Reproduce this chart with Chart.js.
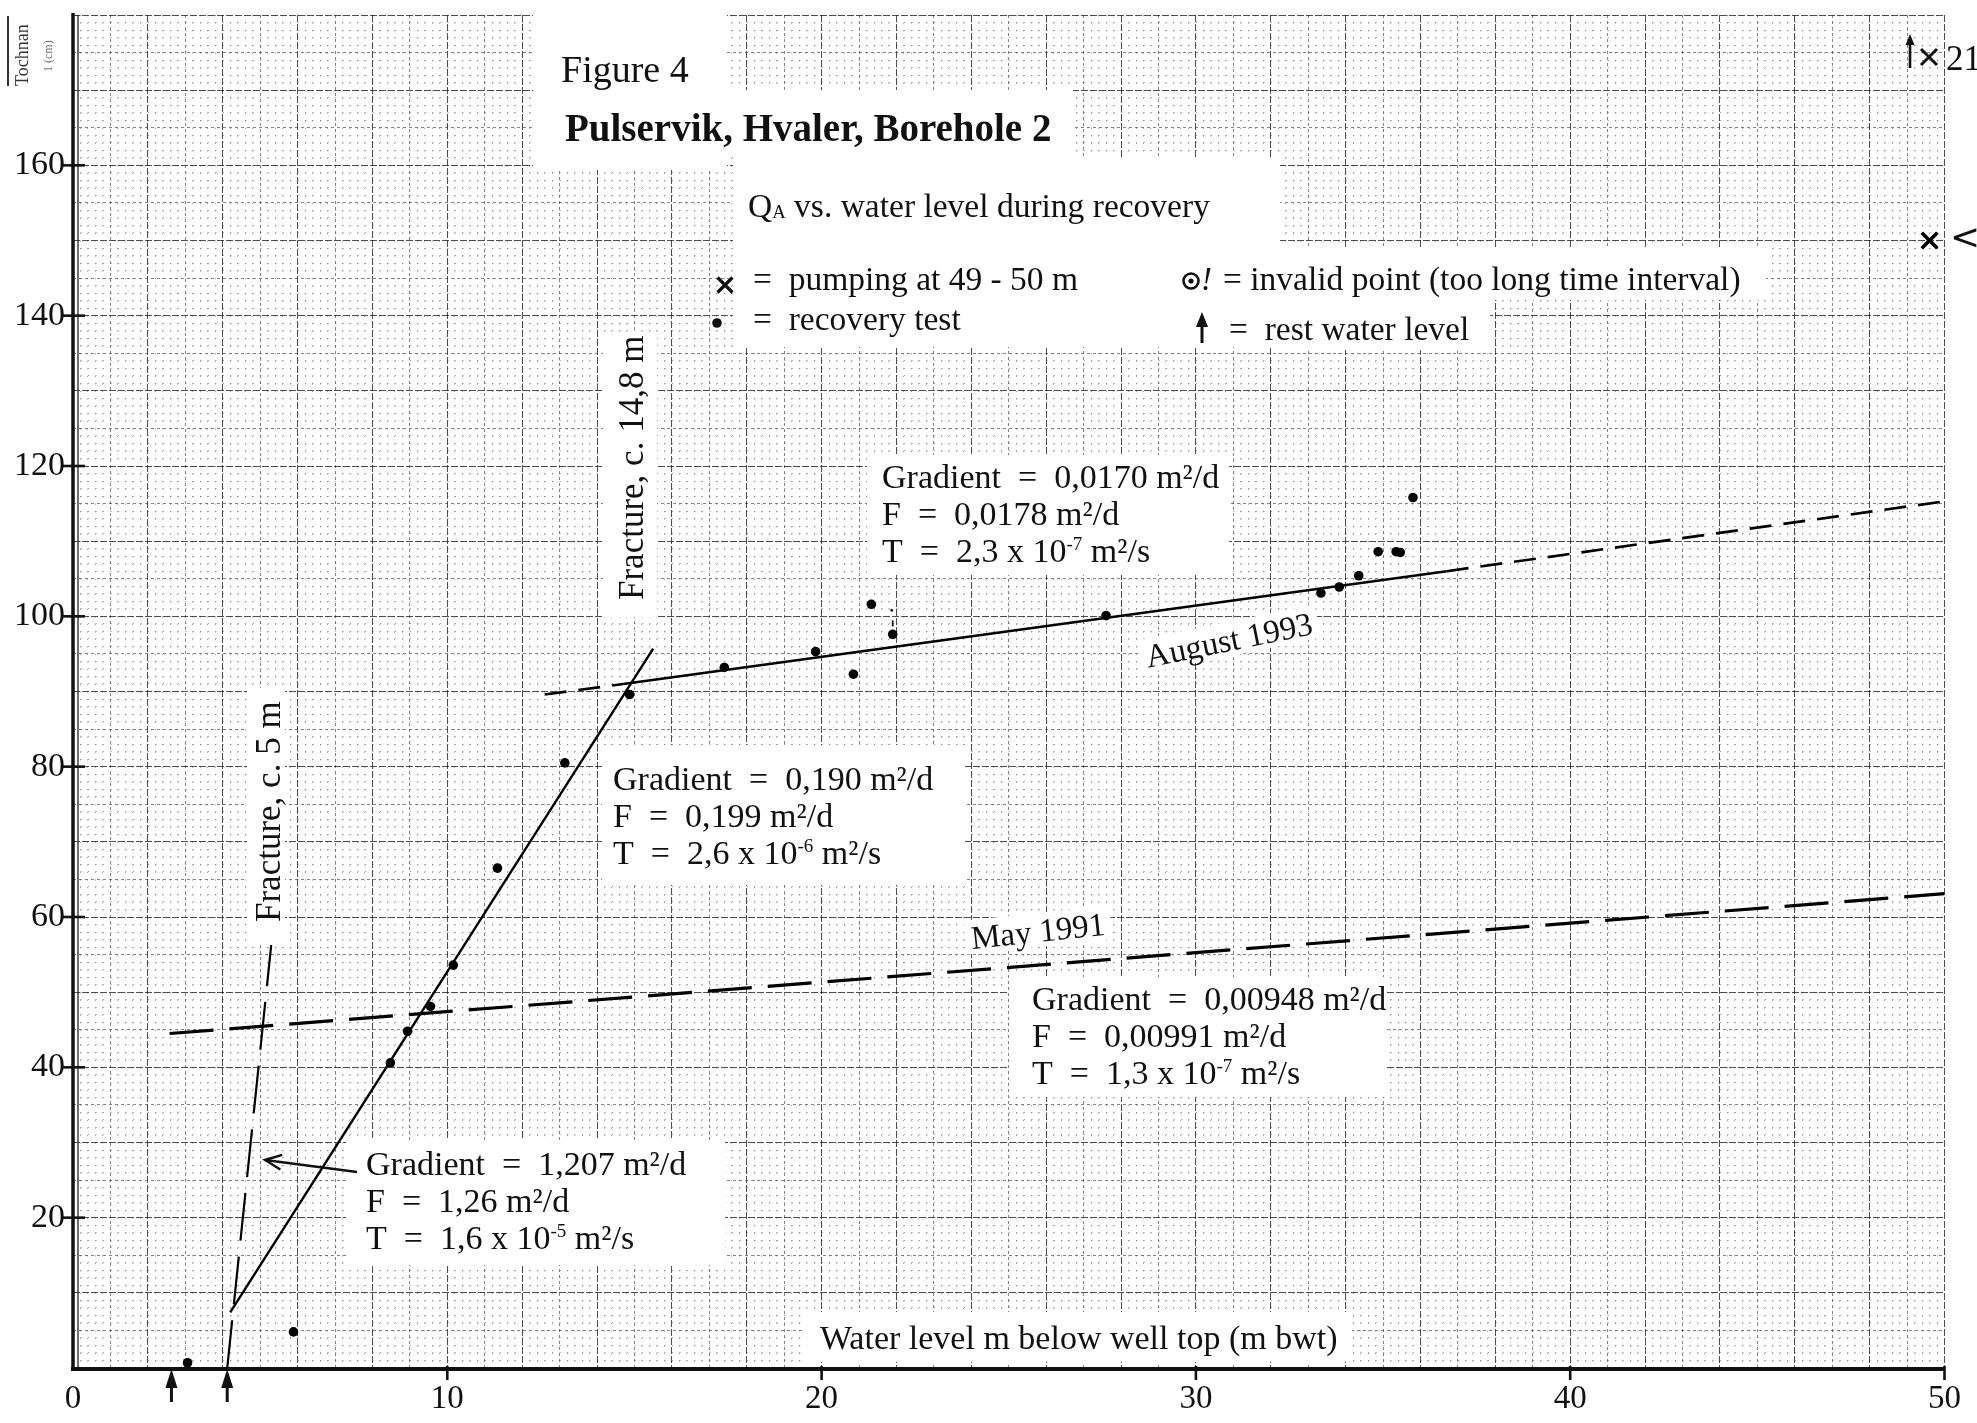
<!DOCTYPE html>
<html>
<head>
<meta charset="utf-8">
<script src="https://cdn.jsdelivr.net/npm/chart.js@4.4.1/dist/chart.umd.min.js"></script>
<style>
  html, body { margin: 0; padding: 0; background: #fff; }
  canvas { display: block; }
</style>
</head>
<body>
<canvas id="c" width="1977" height="1423" style="width:1977px;height:1423px"></canvas>
<script>
// ---- Recovery test readings: water level (m bwt) against Q_A ----
const recoveryDepth = [3.06, 5.89, 8.48, 8.94, 9.55, 10.16, 11.34, 13.14, 14.87, 17.4, 19.84, 20.85, 21.33, 21.9, 27.6, 33.34, 33.83, 34.35, 34.87, 35.35, 35.46, 35.8];
const recoveryQ     = [0.7, 4.8, 40.6, 44.8, 48.1, 53.6, 66.5, 80.5, 89.6, 93.2, 95.3, 92.3, 101.6, 97.6, 100.1, 103.1, 103.9, 105.4, 108.6, 108.6, 108.5, 115.8];
// reading flagged as invalid (too long time interval)
const invalidDepth = [21.9];
const invalidQ     = [97.6];

// ---- Pumping at 49 - 50 m ----
const pumpingDepth = [49.6];
const pumpingQ     = [150];

// ---- Rest water levels ----
const restLevelDepth = [2.63, 4.12];

// ---- Fitted lines ----
const steepDepth = [4.2, 15.5];
const steepQ     = [7.4, 95.7];
const fracture5Depth = [4.12, 5.29, 5.56];
const fracture5Q     = [0, 56, 89];
const aug1993Depth = [12.6, 14.7, 36.7, 50];
const aug1993Q     = [89.6, 91.0, 106.0, 115.3];
const may1991Depth = [2.58, 50];
const may1991Q     = [44.5, 63.1];

// ---- Axis tick labels ----
const xTickLabels = [0, 10, 20, 30, 40, 50];
const yTickLabels = [20, 40, 60, 80, 100, 120, 140, 160];

const SERIF = '"Liberation Serif", "DejaVu Serif", "Times New Roman", serif';
const INK = '#111';

function pts(xs, ys) { return xs.map((x, i) => ({ x, y: ys[i] })); }
function near(v, step) { const r = v / step; return Math.abs(r - Math.round(r)) < 1e-6; }
function fontStr(size, o) { return (o.italic ? 'italic ' : '') + (o.bold ? 'bold ' : '') + size + 'px ' + SERIF; }

function parseRuns(s) {
  const out = [];
  const re = /\^\{([^}]*)\}|_\{([^}]*)\}|([^^_]+)/g;
  let m;
  while ((m = re.exec(s))) {
    if (m[1] !== undefined) out.push({ t: m[1], sup: true });
    else if (m[2] !== undefined) out.push({ t: m[2], sub: true });
    else out.push({ t: m[3] });
  }
  return out;
}

function drawText(ctx, s, x, y, size, o = {}) {
  const runs = parseRuns(s);
  ctx.textBaseline = 'alphabetic';
  ctx.textAlign = 'left';
  let total = 0;
  runs.forEach(r => {
    r.size = (r.sup || r.sub) ? size * 0.56 : size;
    ctx.font = fontStr(r.size, o);
    r.w = ctx.measureText(r.t).width;
    total += r.w;
  });
  let cx = x - (o.align === 'center' ? total / 2 : o.align === 'right' ? total : 0);
  runs.forEach(r => {
    ctx.font = fontStr(r.size, o);
    ctx.fillText(r.t, cx, y + (r.sup ? -size * 0.36 : r.sub ? size * 0.02 : 0));
    cx += r.w;
  });
  return total;
}

// white paste-up areas on the graph paper
const patches = [
  [533, 14, 194, 156],
  [700, 90, 373, 67],
  [733, 157, 547, 190],
  [1280, 247, 486, 53],
  [1280, 300, 210, 50],
  [603, 333, 54, 284],
  [247, 688, 38, 257],
  [867, 455, 362, 120],
  [602, 745, 363, 140],
  [1009, 977, 378, 120],
  [346, 1140, 379, 125],
  [803, 1312, 549, 50]
];

const gradientNotes = [
  { x: 882, y: 488, lines: ['Gradient  =  0,0170 m²/d', 'F  =  0,0178 m²/d', 'T  =  2,3 x 10^{-7} m²/s'] },
  { x: 613, y: 790, lines: ['Gradient  =  0,190 m²/d', 'F  =  0,199 m²/d', 'T  =  2,6 x 10^{-6} m²/s'] },
  { x: 1032, y: 1010, lines: ['Gradient  =  0,00948 m²/d', 'F  =  0,00991 m²/d', 'T  =  1,3 x 10^{-7} m²/s'] },
  { x: 366, y: 1175, lines: ['Gradient  =  1,207 m²/d', 'F  =  1,26 m²/d', 'T  =  1,6 x 10^{-5} m²/s'] }
];

function upArrow(ctx, x, tipY, tailY, headH, headW, shaftW) {
  ctx.beginPath();
  ctx.moveTo(x, tipY);
  ctx.lineTo(x - headW / 2, tipY + headH);
  ctx.lineTo(x + headW / 2, tipY + headH);
  ctx.closePath();
  ctx.fill();
  ctx.lineWidth = shaftW;
  ctx.beginPath();
  ctx.moveTo(x, tipY + headH - 2);
  ctx.lineTo(x, tailY);
  ctx.stroke();
}

function cross(ctx, x, y, r, w) {
  ctx.lineWidth = w;
  ctx.beginPath();
  ctx.moveTo(x - r, y - r); ctx.lineTo(x + r, y + r);
  ctx.moveTo(x + r, y - r); ctx.lineTo(x - r, y + r);
  ctx.stroke();
}

const sheetPlugin = {
  id: 'sheet',
  afterDatasetsDraw(chart) {
    const ctx = chart.ctx;
    const xs = chart.scales.x, ys = chart.scales.y;
    const area = chart.chartArea;
    ctx.save();

    // paste-ups
    ctx.fillStyle = '#fff';
    patches.forEach(r => ctx.fillRect(r[0], r[1], r[2], r[3]));

    ctx.fillStyle = INK;
    ctx.strokeStyle = INK;

    // axes
    ctx.lineWidth = 3.5;
    ctx.beginPath();
    ctx.moveTo(area.left, area.top - 2);
    ctx.lineTo(area.left, area.bottom + 2);
    ctx.stroke();
    ctx.lineWidth = 4;
    ctx.beginPath();
    ctx.moveTo(area.left - 2, area.bottom + 1);
    ctx.lineTo(area.right, area.bottom + 1);
    ctx.stroke();
    ctx.lineWidth = 1.2;
    ctx.beginPath();
    ctx.moveTo(area.left + 5, area.top);
    ctx.lineTo(area.left + 5, area.bottom);
    ctx.stroke();

    // tick marks
    ctx.lineWidth = 2.6;
    yTickLabels.forEach(v => {
      const py = ys.getPixelForValue(v);
      ctx.beginPath(); ctx.moveTo(area.left - 10, py); ctx.lineTo(area.left + 12, py); ctx.stroke();
    });
    xTickLabels.slice(1).forEach(v => {
      const px = xs.getPixelForValue(v);
      ctx.beginPath(); ctx.moveTo(px, area.bottom - 2); ctx.lineTo(px, area.bottom + 12); ctx.stroke();
    });

    // rest water level arrows under the axis
    restLevelDepth.forEach(v => {
      upArrow(ctx, xs.getPixelForValue(v), area.bottom + 1, area.bottom + 34, 19, 12, 3);
    });

    // invalid reading mark
    ctx.lineWidth = 1.8;
    invalidDepth.forEach((v, i) => {
      const px = xs.getPixelForValue(v), py = ys.getPixelForValue(invalidQ[i]);
      ctx.beginPath(); ctx.moveTo(px, py - 8); ctx.lineTo(px, py - 14); ctx.stroke();
      ctx.beginPath(); ctx.arc(px - 1, py - 24, 1.4, 0, Math.PI * 2); ctx.fill();
    });

    // headings
    drawText(ctx, 'Figure 4', 561, 82, 38);
    drawText(ctx, 'Pulservik, Hvaler, Borehole 2', 565, 141, 39, { bold: true });
    drawText(ctx, 'Q_{A} vs. water level during recovery', 748, 217, 33.5);

    // legend
    cross(ctx, 725, 285, 7.5, 3.2);
    drawText(ctx, '=  pumping at 49 - 50 m', 753, 290, 33.5);
    ctx.beginPath(); ctx.arc(717, 323, 4.8, 0, Math.PI * 2); ctx.fill();
    drawText(ctx, '=  recovery test', 753, 330, 33.5);
    ctx.lineWidth = 2.6;
    ctx.beginPath(); ctx.arc(1191, 281, 7.5, 0, Math.PI * 2); ctx.stroke();
    ctx.beginPath(); ctx.arc(1191, 281, 2.6, 0, Math.PI * 2); ctx.fill();
    drawText(ctx, '!', 1201, 290, 33, { italic: true });
    drawText(ctx, '= invalid point (too long time interval)', 1223, 290, 33.5);
    upArrow(ctx, 1202, 312, 343, 15, 12, 3);
    drawText(ctx, '=  rest water level', 1229, 340, 33.5);

    // gradient notes
    gradientNotes.forEach(g => {
      g.lines.forEach((l, i) => drawText(ctx, l, g.x, g.y + i * 37, 34));
    });

    // arrow from the 1,207 note to the dashed fracture line
    ctx.lineWidth = 2.4;
    ctx.beginPath(); ctx.moveTo(357, 1172); ctx.lineTo(265, 1160); ctx.stroke();
    const ang = Math.atan2(1160 - 1172, 265 - 357);
    ctx.beginPath();
    ctx.moveTo(265 - 18 * Math.cos(ang - 0.42), 1160 - 18 * Math.sin(ang - 0.42));
    ctx.lineTo(265, 1160);
    ctx.lineTo(265 - 18 * Math.cos(ang + 0.42), 1160 - 18 * Math.sin(ang + 0.42));
    ctx.stroke();

    // vertical fracture labels
    [['Fracture, c. 14,8 m', 643, 600], ['Fracture, c. 5 m', 280, 922]].forEach(([s, x, y]) => {
      ctx.save(); ctx.translate(x, y); ctx.rotate(-Math.PI / 2);
      drawText(ctx, s, 0, 0, 35);
      ctx.restore();
    });

    // tilted date labels
    [['August 1993', 1229, 640, -11.5], ['May 1991', 1038, 931, -6]].forEach(([s, x, y, deg]) => {
      ctx.save(); ctx.translate(x, y); ctx.rotate(deg * Math.PI / 180);
      ctx.font = fontStr(33, {});
      const w = ctx.measureText(s).width;
      ctx.fillStyle = '#fff';
      ctx.fillRect(-w / 2 - 6, -18, w + 12, 34);
      ctx.fillStyle = INK;
      drawText(ctx, s, 0, 11, 33, { align: 'center' });
      ctx.restore();
    });

    // axis caption inside the plot
    drawText(ctx, 'Water level m below well top (m bwt)', 820, 1349, 34);

    // off-scale pumping note, top right
    upArrow(ctx, 1910, 34, 68, 11, 9, 2.6);
    cross(ctx, 1929, 57, 8, 3);
    drawText(ctx, '21', 1946, 70, 35);
    ctx.font = '36px "DejaVu Sans", sans-serif';
    ctx.textBaseline = 'middle';
    ctx.fillText('<', 1950, 240);

    // paper maker mark
    ctx.save(); ctx.translate(28, 86); ctx.rotate(-Math.PI / 2);
    ctx.fillStyle = '#333';
    ctx.textBaseline = 'alphabetic';
    ctx.font = '18px ' + SERIF;
    ctx.fillText('Tochnan', 0, 0);
    ctx.font = '12px ' + SERIF;
    ctx.fillStyle = '#777';
    ctx.fillText('1 (cm)', 14, 24);
    ctx.restore();
    ctx.strokeStyle = '#333';
    ctx.lineWidth = 2;
    ctx.beginPath(); ctx.moveTo(8, 16); ctx.lineTo(8, 86); ctx.stroke();

    ctx.restore();
  }
};

// graph-paper rulings: heavy every 2 m / 10 units, dashed halves, dotted millimetres
function gridKind(v, majorStep, midStep) {
  if (near(v, majorStep)) return 'major';
  if (near(v, midStep)) return 'mid';
  return 'minor';
}
function gridColor(kind) {
  return kind === 'major' ? 'rgba(30,30,30,0.78)' : kind === 'mid' ? 'rgba(50,50,50,0.6)' : 'rgba(70,70,70,0.5)';
}
function gridDash(kind, dotStep) {
  return kind === 'major' ? [7, 2] : kind === 'mid' ? [3, 3] : [1.2, dotStep - 1.2];
}

new Chart(document.getElementById('c'), {
  type: 'scatter',
  data: {
    datasets: [
      {
        label: 'recovery test',
        data: pts(recoveryDepth, recoveryQ),
        pointRadius: 4.8,
        pointBackgroundColor: '#000',
        pointBorderWidth: 0
      },
      {
        label: 'pumping at 49 - 50 m',
        data: pts(pumpingDepth, pumpingQ),
        pointStyle: 'crossRot',
        pointRadius: 11,
        pointBorderColor: '#000',
        pointBorderWidth: 3.6
      },
      {
        label: 'Gradient 0,190',
        data: pts(steepDepth, steepQ),
        showLine: true, pointRadius: 0,
        borderColor: '#000', borderWidth: 2.4
      },
      {
        label: 'Fracture, c. 5 m',
        data: pts(fracture5Depth, fracture5Q),
        showLine: true, pointRadius: 0,
        borderColor: '#000', borderWidth: 2.2,
        borderDash: [48, 16]
      },
      {
        label: 'August 1993',
        data: pts(aug1993Depth, aug1993Q),
        showLine: true, pointRadius: 0,
        borderColor: '#000', borderWidth: 2.7,
        segment: { borderDash: c => (c.p0DataIndex === 1 ? [] : [22, 12]) }
      },
      {
        label: 'May 1991',
        data: pts(may1991Depth, may1991Q),
        showLine: true, pointRadius: 0,
        borderColor: '#000', borderWidth: 3.2,
        borderDash: [44, 16]
      }
    ]
  },
  options: {
    responsive: false,
    animation: false,
    events: [],
    layout: { padding: { top: 15, right: 22, left: 0, bottom: 0 } },
    plugins: { legend: { display: false }, tooltip: { enabled: false } },
    scales: {
      x: {
        type: 'linear', position: 'bottom', min: 0, max: 50,
        afterFit: s => { s.height = 55; },
        ticks: {
          stepSize: 0.2, autoSkip: false, maxRotation: 0, minRotation: 0,
          padding: 16, color: INK,
          font: { family: SERIF, size: 33, lineHeight: 0.9 },
          callback: v => (near(v, 1) && xTickLabels.includes(Math.round(v)) ? String(Math.round(v)) : '')
        },
        grid: {
          drawTicks: false,
          lineWidth: 1,
          color: c => (c.type === 'tick' ? gridColor(gridKind(c.tick.value, 2, 1)) : 'transparent')
        },
        border: {
          display: false,
          dash: c => {
            if (c.type !== 'tick') return [];
            const a = c.chart.chartArea;
            const step = a ? (a.bottom - a.top) / 180 : 7.5;
            return gridDash(gridKind(c.tick.value, 2, 1), step);
          }
        }
      },
      y: {
        type: 'linear', min: 0, max: 180,
        afterFit: s => { s.width = 73; },
        ticks: {
          stepSize: 1, autoSkip: false, padding: 8, color: INK,
          font: { family: SERIF, size: 34, lineHeight: 0.35 },
          callback: v => (near(v, 1) && yTickLabels.includes(Math.round(v)) ? String(Math.round(v)) : '')
        },
        grid: {
          drawTicks: false,
          lineWidth: 1,
          color: c => (c.type === 'tick' ? gridColor(gridKind(c.tick.value, 10, 5)) : 'transparent')
        },
        border: {
          display: false,
          dash: c => {
            if (c.type !== 'tick') return [];
            const a = c.chart.chartArea;
            const step = a ? (a.right - a.left) / 250 : 7.5;
            return gridDash(gridKind(c.tick.value, 10, 5), step);
          }
        }
      }
    }
  },
  plugins: [sheetPlugin]
});
</script>
</body>
</html>
